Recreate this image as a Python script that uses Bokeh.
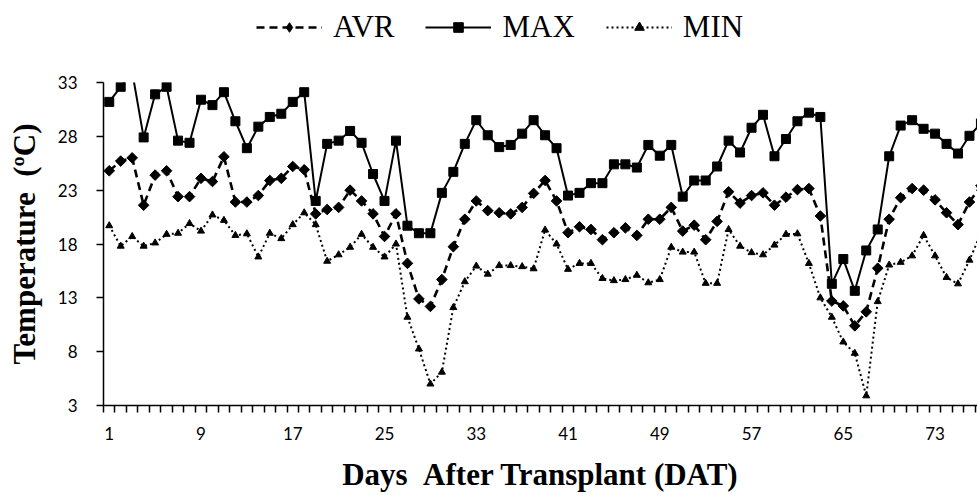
from bokeh.plotting import figure
from bokeh.layouts import column
from bokeh.models import FixedTicker, Legend, LegendItem, Range1d, ColumnDataSource
from bokeh.embed import file_html
from bokeh.resources import INLINE
import math

days = list(range(1, 78))

max_t = [31.2, 32.6, 34.0, 27.9, 31.9, 32.6, 27.6, 27.4, 31.4, 30.9,
         32.1, 29.4, 26.9, 28.9, 29.8, 30.1, 31.2, 32.1, 22.0, 27.3,
         27.6, 28.5, 27.4, 24.5, 22.0, 27.6, 19.7, 19.0, 19.0, 22.75,
         24.7, 27.3, 29.5, 28.1, 27.0, 27.2, 28.25, 29.5, 28.1, 26.9,
         22.5, 22.75, 23.65, 23.65, 25.4, 25.4, 25.1, 27.2, 26.2, 27.2,
         22.4, 23.9, 23.9, 25.2, 27.6, 26.5, 28.8, 30.0, 26.15, 27.75,
         29.4, 30.2, 29.8, 14.3, 16.6, 13.65, 17.4, 19.35, 26.15, 29.0,
         29.5, 28.7, 28.25, 27.3, 26.4, 28.05, 29.2]

avr_t = [24.8, 25.7, 26.0, 21.6, 24.4, 24.8, 22.4, 22.4, 24.1, 23.8,
         26.1, 21.9, 21.9, 22.5, 23.9, 24.1, 25.2, 24.9, 20.8, 21.2,
         21.4, 23.0, 22.0, 20.8, 18.7, 20.8, 16.2, 12.9, 12.2, 14.7,
         17.75, 20.3, 22.0, 21.1, 20.9, 20.8, 21.4, 22.7, 23.9, 22.0,
         19.05, 19.6, 19.35, 18.4, 19.05, 19.5, 18.8, 20.3, 20.3, 21.4,
         19.2, 19.75, 18.4, 20.1, 22.85, 21.8, 22.5, 22.75, 21.6, 22.35,
         23.05, 23.15, 20.6, 12.7, 12.25, 10.4, 11.7, 15.75, 20.3, 22.3,
         23.15, 23.0, 22.1, 20.9, 19.8, 21.9, 23.4]

min_t = [19.7, 17.8, 18.7, 17.8, 18.1, 18.9, 19.0, 19.9, 19.2, 20.7,
         20.2, 18.8, 18.95, 16.8, 19.0, 18.5, 19.8, 20.9, 19.8, 16.4,
         17.0, 17.7, 18.9, 17.7, 16.8, 18.0, 11.2, 8.25, 5.0, 6.1,
         12.1, 14.5, 15.95, 15.2, 16.0, 16.0, 15.9, 15.7, 19.3, 18.0,
         15.65, 16.2, 16.2, 14.8, 14.6, 14.7, 15.1, 14.4, 14.7, 17.7,
         17.25, 17.25, 14.35, 14.35, 19.35, 17.8, 17.2, 17.0, 17.9, 18.9,
         18.95, 16.2, 13.0, 11.2, 8.9, 7.85, 3.9, 12.65, 16.05, 16.3,
         16.9, 18.8, 16.9, 14.9, 14.3, 16.5, 19.0]

x_tick_days = [1, 9, 17, 25, 33, 41, 49, 57, 65, 73]
y_ticks = [3, 8, 13, 18, 23, 28, 33]
series_names = ["AVR", "MAX", "MIN"]

src = ColumnDataSource(dict(day=days, mx=max_t, av=avr_t, mn=min_t))

LINE = {
    "av": dict(line_width=2.6, line_dash="8 5"),
    "mx": dict(line_width=2),
    "mn": dict(line_width=2, line_dash="2 3"),
}
MARK = {
    "av": dict(marker="square", angle=math.pi / 4, size=7.5),
    "mx": dict(marker="square", size=9),
    "mn": dict(marker="triangle", size=7),
}
LEG_MARK = {
    "av": dict(marker="diamond"),
    "mx": dict(marker="square"),
    "mn": dict(marker="triangle"),
}


def add_series(fig, col, mk):
    ln = fig.line("day", col, source=src, line_color="black", **LINE[col])
    sc = fig.scatter("day", col, source=src, fill_color="black", line_color="black", **mk)
    return ln, sc


# ---------- main plot ----------
p = figure(width=977, height=423, x_range=Range1d(0.5, 76.7), y_range=Range1d(3, 33),
           output_backend="svg", toolbar_location=None,
           min_border_left=103, min_border_right=0, min_border_top=10, min_border_bottom=90)
p.grid.visible = False
p.outline_line_color = None

for c in ["av", "mx", "mn"]:
    add_series(p, c, MARK[c])

xa = p.xaxis[0]
xa.ticker = FixedTicker(ticks=x_tick_days, minor_ticks=[d - 0.5 for d in days] + [77.5])
xa.major_tick_line_color = None
xa.major_tick_out = 7
xa.major_tick_in = 0
xa.minor_tick_out = 7
xa.minor_tick_in = 0
xa.minor_tick_line_color = "black"
xa.minor_tick_line_width = 1.5
xa.axis_line_color = "black"
xa.axis_line_width = 1.5
xa.major_label_text_font = "Lato"
xa.major_label_text_font_size = "17px"
xa.major_label_text_color = "black"
xa.major_label_standoff = 14
xa.axis_label = "Days \u00a0After Transplant (DAT)"
xa.axis_label_text_font = "Liberation Serif"
xa.axis_label_text_font_style = "bold"
xa.axis_label_text_font_size = "31px"
xa.axis_label_text_color = "black"
xa.axis_label_standoff = 14

ya = p.yaxis[0]
ya.ticker = FixedTicker(ticks=y_ticks, minor_ticks=[])
ya.major_tick_out = 7
ya.major_tick_in = 0
ya.major_tick_line_color = "black"
ya.major_tick_line_width = 1.5
ya.minor_tick_line_color = None
ya.axis_line_color = "black"
ya.axis_line_width = 1.5
ya.major_label_text_font = "Lato"
ya.major_label_text_font_size = "17px"
ya.major_label_text_color = "black"
ya.major_label_standoff = 19
ya.axis_label = "Temperature \u00a0(ºC)"
ya.axis_label_text_font = "Liberation Serif"
ya.axis_label_text_font_style = "bold"
ya.axis_label_text_font_size = "31px"
ya.axis_label_text_color = "black"
ya.axis_label_standoff = 13

# ---------- legend strip ----------
lg = figure(width=977, height=72, x_range=Range1d(-20, -19), y_range=Range1d(-20, -19),
            x_axis_location=None, y_axis_location=None, output_backend="svg",
            toolbar_location=None, min_border=0)
lg.grid.visible = False
lg.outline_line_color = None

items = []
for name, c in zip(series_names, ["av", "mx", "mn"]):
    ln, sc = add_series(lg, c, LEG_MARK[c])
    items.append(LegendItem(label=name, renderers=[ln, sc]))

legend = Legend(items=items, orientation="horizontal", location=(153, 27),
                glyph_width=66, glyph_height=24, label_standoff=11, spacing=31,
                padding=0, margin=0, border_line_color=None, background_fill_alpha=0,
                label_text_font="Liberation Serif", label_text_font_size="31px",
                label_text_color="black")
lg.add_layout(legend, "center")

layout = column(lg, p, spacing=0)
open("out.html", "w").write(file_html(layout, INLINE))
